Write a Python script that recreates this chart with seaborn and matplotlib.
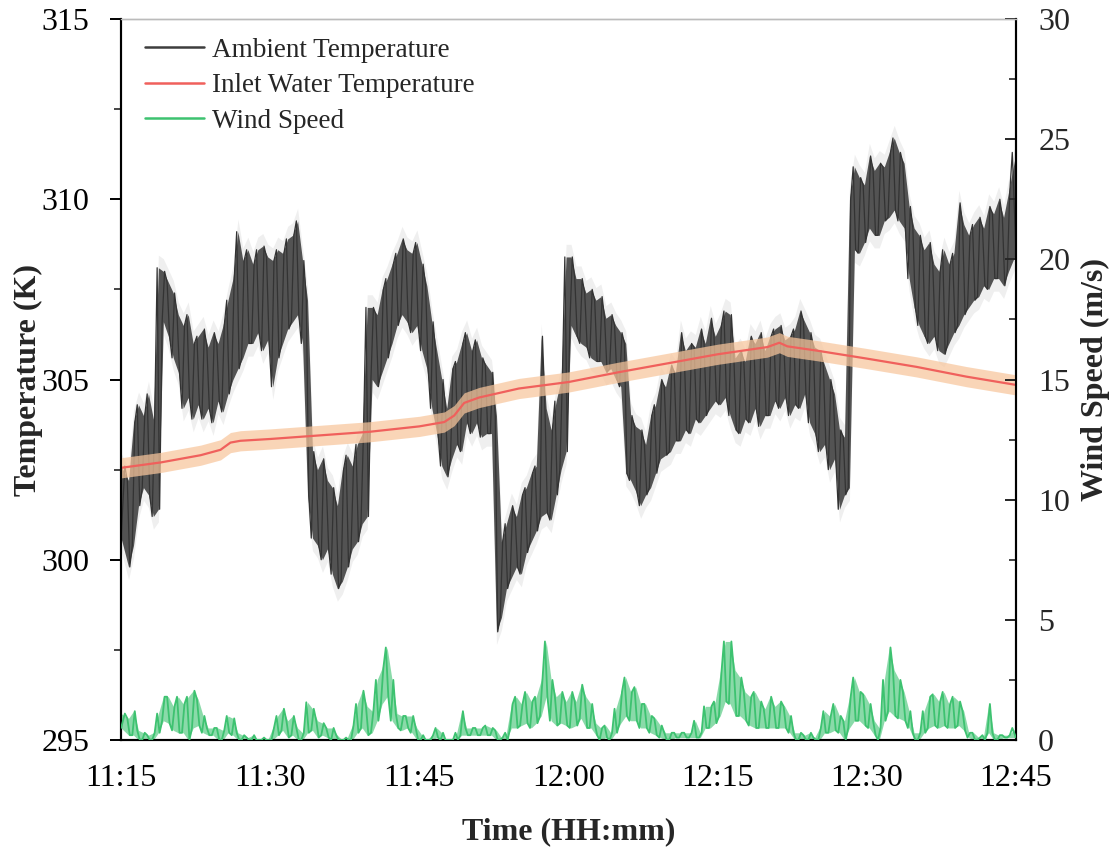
import numpy as np
import pandas as pd
import matplotlib
matplotlib.use("Agg")
import matplotlib.pyplot as plt
from matplotlib.lines import Line2D
import seaborn as sns

# ---------------- data ----------------
# Ambient temperature (K): low / high envelope per 30-s bin, from 11:15 to 12:45
amb_low = [
    300.6, 299.8, 300.4, 301.5, 302.0, 301.8, 301.2, 301.4, 306.6, 306.2,
    305.6, 305.2, 304.2, 304.5, 303.9, 304.3, 303.9, 304.2, 303.8, 304.4,
    304.1, 304.6, 305.0, 305.3, 305.6, 306.0, 306.0, 306.3, 305.8, 306.1,
    304.8, 305.6, 306.0, 306.4, 306.6, 306.8, 306.0, 301.8, 300.6, 300.4,
    300.0, 300.3, 299.6, 299.2, 299.4, 299.8, 300.3, 300.5, 301.0, 301.2,
    305.0, 304.8, 305.2, 305.6, 306.0, 306.5, 306.8, 306.6, 306.3, 306.5,
    305.8, 305.3, 304.2, 303.5, 302.6, 302.3, 302.8, 303.2, 303.0, 303.8,
    303.5, 303.8, 303.4, 303.5, 303.5, 298.0, 298.4, 299.2, 299.5, 299.8,
    299.6, 300.2, 300.5, 300.8, 301.2, 301.3, 301.1, 301.8, 302.5, 303.0,
    306.5, 306.2, 306.0, 305.9, 305.6, 305.5, 305.5, 305.2, 305.3, 305.0,
    304.8, 302.4, 302.2, 301.9, 301.5, 301.8, 302.0, 302.4, 302.8, 302.9,
    303.0, 303.3, 303.3, 303.6, 303.5, 303.9, 303.8, 304.0, 304.2, 304.4,
    304.3, 304.5, 304.0, 303.6, 303.5, 303.9, 303.8, 304.2, 303.7, 304.0,
    304.0, 304.4, 304.2, 304.5, 304.0, 304.3, 304.2, 304.6, 303.8, 303.5,
    303.0, 303.2, 302.5, 302.8, 301.4, 301.8, 302.0, 308.6, 308.5, 308.8,
    309.2, 309.0, 309.0, 309.4, 309.5, 309.7, 309.4, 309.2, 307.8, 307.0,
    306.5, 306.2, 306.0, 306.2, 305.8, 305.7, 306.0, 306.3, 306.5, 306.8,
    307.0, 307.2, 307.3, 307.6, 307.5, 307.8, 307.8, 307.6, 308.0, 308.5,
]
amb_high = [
    302.6, 302.2, 303.8, 304.3, 304.0, 304.6, 303.9, 308.1, 308.0, 307.7,
    307.4, 306.8, 306.5, 306.8, 306.0, 306.2, 306.4, 305.9, 306.3, 306.0,
    306.5, 307.2, 307.8, 309.1, 308.3, 308.6, 308.2, 308.6, 308.7, 308.4,
    308.3, 308.6, 308.5, 308.9, 309.0, 309.4, 308.3, 307.2, 303.0, 302.5,
    302.8, 302.2, 302.0, 301.5, 302.5, 302.9, 302.6, 303.2, 303.5, 307.0,
    307.0, 306.8, 307.5, 307.8, 308.2, 308.5, 308.9, 308.6, 308.5, 308.8,
    308.2, 307.6, 306.6, 305.8, 305.0, 304.2, 305.3, 305.5, 306.0, 306.3,
    305.8, 306.1, 305.6, 305.4, 305.2, 304.0, 300.5, 301.0, 301.5, 301.2,
    301.8, 302.0, 302.4, 302.6, 306.2, 304.2, 303.6, 304.4, 305.0, 308.4,
    308.4, 307.8, 307.8, 307.4, 307.5, 307.2, 307.3, 306.7, 306.8, 306.5,
    306.3, 306.0, 304.0, 303.7, 303.6, 303.2, 304.0, 304.3, 305.0, 304.8,
    305.4, 305.2, 306.3, 305.8, 306.0, 305.9, 306.4, 306.0, 306.7, 306.2,
    306.5, 306.9, 306.8, 305.6, 305.8, 305.5, 306.2, 306.0, 306.3, 305.8,
    306.2, 306.4, 306.5, 306.1, 306.2, 306.4, 306.9, 306.6, 306.3, 305.9,
    305.8, 305.4, 305.0, 304.6, 303.6, 303.4, 310.0, 310.9, 310.6, 310.4,
    311.2, 310.8, 311.0, 310.9, 311.3, 311.7, 311.3, 311.0, 309.8, 309.2,
    309.0, 308.6, 308.8, 308.2, 308.0, 308.6, 308.2, 308.5, 309.9, 309.3,
    309.0, 309.3, 309.5, 309.2, 309.8, 309.6, 310.0, 309.5, 310.2, 311.3,
]

# Wind speed (m/s): low / high envelope per 30-s bin
wind_low = [
    0.5, 0.2, 0.2, 0.0, 0.0, 0.0, 0.0, 0.3, 0.8, 0.7,
    0.4, 0.3, 0.3, 0.0, 0.5, 0.6, 0.3, 0.2, 0.2, 0.0,
    0.0, 0.3, 0.2, 0.0, 0.0, 0.0, 0.0, 0.0, 0.0, 0.0,
    0.0, 0.2, 0.4, 0.1, 0.2, 0.0, 0.0, 0.3, 0.4, 0.1,
    0.2, 0.1, 0.0, 0.0, 0.0, 0.0, 0.0, 0.3, 0.5, 0.2,
    0.3, 0.8, 1.5, 1.8, 0.8, 0.5, 0.4, 0.5, 0.3, 0.0,
    0.0, 0.0, 0.0, 0.1, 0.0, 0.0, 0.0, 0.0, 0.2, 0.2,
    0.2, 0.2, 0.2, 0.2, 0.2, 0.0, 0.0, 0.0, 0.5, 0.5,
    0.6, 0.7, 0.5, 0.7, 1.0, 1.8, 0.8, 0.6, 0.7, 0.6,
    0.5, 0.6, 0.9, 0.5, 0.5, 0.2, 0.0, 0.1, 0.0, 0.3,
    0.7, 1.0, 0.8, 0.8, 0.5, 0.5, 0.3, 0.2, 0.1, 0.0,
    0.0, 0.1, 0.1, 0.1, 0.1, 0.1, 0.1, 0.5, 0.5, 0.7,
    1.0, 1.6, 1.5, 1.0, 1.0, 0.8, 0.6, 0.5, 0.5, 0.5,
    0.5, 0.5, 0.5, 0.5, 0.3, 0.0, 0.0, 0.0, 0.0, 0.0,
    0.0, 0.3, 0.3, 0.4, 0.3, 0.0, 0.5, 0.8, 0.8, 0.6,
    0.5, 0.2, 0.0, 0.8, 1.2, 1.0, 0.9, 0.8, 0.5, 0.0,
    0.0, 0.3, 0.5, 0.6, 0.5, 0.6, 0.5, 0.5, 0.6, 0.4,
    0.1, 0.0, 0.0, 0.0, 0.3, 0.0, 0.0, 0.1, 0.1, 0.1,
]
wind_high = [
    1.1, 0.9, 1.2, 0.4, 0.3, 0.2, 0.3, 1.1, 1.8, 1.8,
    1.4, 1.8, 1.5, 1.8, 2.05, 1.7, 1.0, 0.5, 0.5, 0.5,
    0.4, 1.0, 0.9, 0.3, 0.2, 0.1, 0.2, 0.0, 0.1, 0.0,
    0.5, 1.0, 1.3, 0.8, 1.0, 0.5, 0.3, 1.57, 1.3, 0.8,
    0.7, 0.5, 0.5, 0.2, 0.0, 0.1, 0.6, 1.5, 2.05, 1.4,
    1.2, 2.5, 3.0, 3.85, 2.5, 1.1, 1.0, 1.0, 1.0, 0.5,
    0.2, 0.0, 0.2, 0.5, 0.3, 0.0, 0.0, 0.3, 1.2, 0.5,
    0.5, 0.5, 0.5, 0.6, 0.5, 0.4, 0.1, 0.3, 1.5, 1.8,
    1.5, 2.0, 1.6, 1.8, 2.5, 4.1, 2.5, 1.8, 2.0, 1.6,
    2.0, 1.6, 2.3, 1.8, 1.5, 0.7, 0.5, 0.6, 0.3, 1.3,
    2.0, 2.6, 2.0, 2.2, 1.5, 1.5, 1.0, 0.9, 0.6, 0.3,
    0.3, 0.3, 0.3, 0.3, 0.3, 0.8, 0.3, 1.4, 1.4, 1.6,
    2.8, 4.1, 4.1, 2.9, 2.6, 2.0, 1.8, 2.0, 1.6, 1.3,
    1.8, 1.4, 1.6, 1.4, 1.0, 0.3, 0.3, 0.2, 0.3, 0.1,
    0.5, 1.2, 1.0, 1.5, 1.0, 0.8, 1.8, 2.6, 2.0, 1.9,
    1.5, 0.8, 0.5, 2.5, 3.85, 2.9, 2.5, 2.0, 1.2, 0.3,
    0.3, 1.2, 1.8, 1.9, 1.6, 2.0, 1.5, 1.8, 1.6, 1.2,
    0.3, 0.3, 0.1, 0.2, 1.5, 0.3, 0.2, 0.2, 0.2, 0.5,
]

# Inlet water temperature (K), read at selected minutes after 11:15
inlet_min = [0, 4, 8, 10, 11, 12, 15, 20, 25, 30, 32.5, 33.5, 34.5, 36, 40,
             45, 50, 55, 60, 65, 66.2, 67, 70, 75, 80, 85, 90]
inlet_temp = [302.55, 302.7, 302.9, 303.05, 303.25, 303.3, 303.35, 303.45,
              303.55, 303.7, 303.82, 304.0, 304.35, 304.5, 304.75, 304.93,
              305.2, 305.45, 305.7, 305.9, 306.02, 305.92, 305.8, 305.58,
              305.35, 305.08, 304.85]

tick_minutes = [0, 15, 30, 45, 60, 75, 90]
tick_labels = ["11:15", "11:30", "11:45", "12:00", "12:15", "12:30", "12:45"]
series_names = ["Ambient Temperature", "Inlet Water Temperature", "Wind Speed"]

# ---------------- build long-form frames ----------------
bin_min = 0.5
n = len(amb_low)
t_zz, amb_zz, wind_zz = [], [], []
for i in range(n):
    t0 = i * bin_min
    t_zz += [t0 + 0.125, t0 + 0.375]
    if i % 2 == 0:
        amb_zz += [amb_low[i], amb_high[i]]
        wind_zz += [wind_low[i], wind_high[i]]
    else:
        amb_zz += [amb_high[i], amb_low[i]]
        wind_zz += [wind_high[i], wind_low[i]]
t_zz[0] = 0.0
t_zz[-1] = 90.0
amb_df = pd.DataFrame({"t": t_zz, "v": amb_zz})
wind_df = pd.DataFrame({"t": t_zz, "v": wind_zz})
inlet_df = pd.DataFrame({"t": inlet_min, "v": inlet_temp})
t_bins = np.array([i * bin_min + 0.25 for i in range(n)])
t_bins[0] = 0.0
t_bins[-1] = 90.0

# ---------------- style ----------------
sns.set_theme(style="white")
plt.rcParams["font.family"] = ["Liberation Serif", "DejaVu Serif"]

c_amb = "#3d3d3d"
c_inlet = "#f0605c"
c_band = "#f8c69c"
c_wind = "#3dc270"

fig = plt.figure(figsize=(11.11, 8.49), dpi=100)
ax = fig.add_axes([0.109, 0.1284, 0.8055, 0.8492])
ax2 = ax.twinx()

# ambient grey halo + envelope
ax.fill_between(t_bins, np.array(amb_low) - 0.35, np.array(amb_high) + 0.35,
                color="#dcdcdc", alpha=0.45, lw=0, zorder=1)
ax.fill_between(t_bins, amb_low, amb_high, color=c_amb, alpha=0.88, lw=0, zorder=2)
sns.lineplot(data=amb_df, x="t", y="v", ax=ax, color="#333333", lw=0.9,
             estimator=None, sort=False, zorder=3)

# inlet water band + line
ax.fill_between(inlet_df["t"], inlet_df["v"] - 0.28, inlet_df["v"] + 0.28,
                color=c_band, alpha=0.72, lw=0, zorder=4)
sns.lineplot(data=inlet_df, x="t", y="v", ax=ax, color=c_inlet, lw=1.6,
             estimator=None, sort=False, zorder=5)

# wind speed on right axis
ax2.fill_between(t_bins, wind_low, wind_high, color=c_wind, alpha=0.6, lw=0, zorder=2)
sns.lineplot(data=wind_df, x="t", y="v", ax=ax2, color=c_wind, lw=1.3,
             estimator=None, sort=False, zorder=3)

# ---------------- axes ----------------
ax.set_xlim(0, 90)
ax.set_ylim(295, 315)
ax2.set_ylim(0, 30)
ax.set_xticks(tick_minutes)
ax.set_xticklabels(tick_labels)
ax.set_xticks([7.5 + 15 * k for k in range(6)], minor=True)
ax.set_yticks([295, 300, 305, 310, 315])
ax.set_yticks([297.5, 302.5, 307.5, 312.5], minor=True)
ax2.set_yticks([0, 5, 10, 15, 20, 25, 30])
ax2.set_yticks([2.5 + 5 * k for k in range(6)], minor=True)

lab_font = dict(family="Liberation Serif", weight="bold", size=23)
ax.set_xlabel("Time (HH:mm)", fontdict=lab_font, labelpad=18)
ax.set_ylabel("Temperature (K)", fontdict=lab_font, labelpad=-1)
ax2.set_ylabel("Wind Speed (m/s)", fontdict=lab_font, labelpad=8)

for a in (ax, ax2):
    for s in a.spines.values():
        s.set_linewidth(1.5)
        s.set_color("black")
    a.spines["top"].set_color("#bbbbbb")
    a.spines["top"].set_linewidth(1.0)

ax.tick_params(axis="both", which="major", direction="out", length=8, width=1.4,
               labelsize=23, colors="black")
ax.tick_params(axis="y", which="major", pad=15)
ax.tick_params(axis="x", which="major", pad=9)
ax.tick_params(axis="both", which="minor", direction="out", length=5, width=1.2)
ax.tick_params(axis="x", which="both", top=False)
ax.tick_params(axis="y", which="both", right=False)
ax2.tick_params(axis="y", which="major", direction="in", length=8, width=1.4,
                labelsize=23, pad=16, left=False, right=True)
ax2.tick_params(axis="y", which="minor", direction="in", length=5, width=1.2,
                left=False, right=True)
for lbl in ax.get_xticklabels() + ax.get_yticklabels() + ax2.get_yticklabels():
    lbl.set_family("Liberation Serif")
ax.grid(False)
ax2.grid(False)

handles = [Line2D([], [], color=c_amb, lw=1.8),
           Line2D([], [], color=c_inlet, lw=1.8),
           Line2D([], [], color=c_wind, lw=1.8)]
ax2.legend(handles, series_names, loc="upper left", frameon=False,
           prop=dict(family="Liberation Serif", size=19.5),
           handlelength=2.2, handletextpad=0.3, labelspacing=0.38,
           borderaxespad=0.3, bbox_to_anchor=(0.005, 1.0))

fig.savefig("out.png", dpi=100)
